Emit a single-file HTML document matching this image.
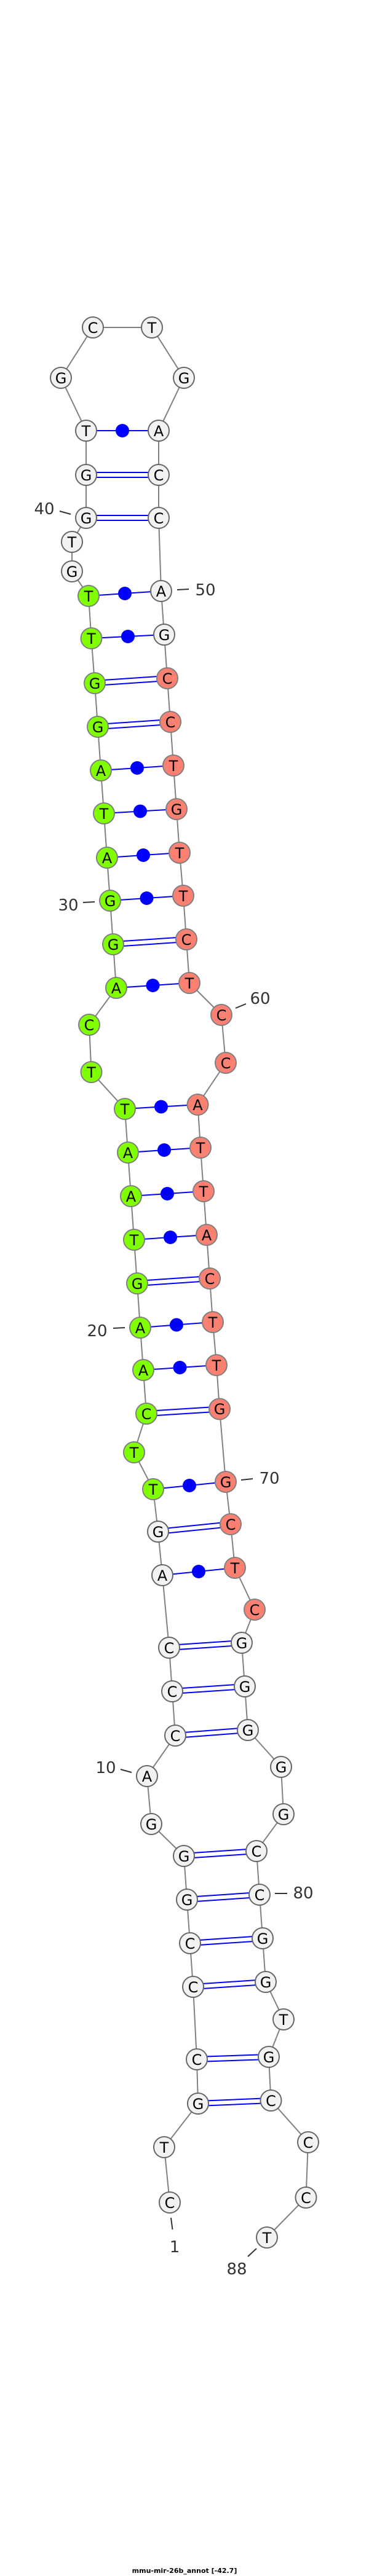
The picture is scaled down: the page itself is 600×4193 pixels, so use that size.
<!DOCTYPE html>
<html><head><meta charset="utf-8"><style>html,body{margin:0;padding:0;background:#fff}svg{display:block}</style></head>
<body>
<svg width="600" height="4193" viewBox="0 0 600 4193" xmlns="http://www.w3.org/2000/svg">
<rect width="600" height="4193" fill="#fff"/>
<polyline fill="none" stroke="#808080" stroke-width="2" points="276,3585 267,3495 322,3424 320,3352 314,3234 309,3163 304,3092 299,3021 246,2969 239,2891 285,2825 280,2753 275,2682 264,2564 257,2493 249,2424 218,2364 238,2301 233,2230 228,2161 223,2089 218,2018 213,1947 208,1876 203,1805 148.5,1745 145,1668 189,1608 184,1537 179,1466 174,1396 169,1324 164,1254 159,1183 154,1112 148.5,1039 144,970 117,930 117,882 140,843 140,773 140,701 99,615 151,533 247,533 299,615 258,701 258,773 258,843 262,962 267,1033 272,1104 277,1175 282,1246 287,1317 292,1388 298,1458 303,1529 308,1600 360,1652 367,1730 321.5,1798 326,1868 331,1939 336,2010 341,2081 346,2152 352,2222 357,2293.5 367,2412 375,2481 382,2552 414,2620 393,2674 398,2745 403,2816 457,2876 461,2953 417,3013 422,3084 427,3155 432,3226 461,3287 437,3348 440.5,3419 501,3487 497.5,3577 434,3642"/>
<g stroke="#0000ff" stroke-width="2" fill="none">
<!-- double pairs -->
<path d="M322,3420 L440.5,3415 M322,3428 L440.5,3423"/>
<path d="M320,3348 L437,3344 M320,3356 L437,3352"/>
<path d="M314,3230 L432,3222 M314,3238 L432,3230"/>
<path d="M309,3159 L427,3151 M309,3167 L427,3159"/>
<path d="M304,3088 L422,3080 M304,3096 L422,3088"/>
<path d="M299,3017 L417,3009 M299,3025 L417,3017"/>
<path d="M285,2821 L403,2812 M285,2829 L403,2820"/>
<path d="M280,2749 L398,2741 M280,2757 L398,2749"/>
<path d="M275,2678 L393,2670 M275,2686 L393,2678"/>
<path d="M257,2489 L375,2477 M257,2497 L375,2485"/>
<path d="M238,2297 L357,2289.5 M238,2305 L357,2297.5"/>
<path d="M223,2085 L341,2077 M223,2093 L341,2085"/>
<path d="M184,1533 L303,1525 M184,1541 L303,1533"/>
<path d="M159,1179 L277,1171 M159,1187 L277,1179"/>
<path d="M154,1108 L272,1100 M154,1116 L272,1108"/>
<path d="M140,839 L258,839 M140,847 L258,847"/>
<path d="M140,769 L258,769 M140,777 L258,777"/>
<!-- single pairs -->
<path d="M264,2564 L382,2552 M249,2424 L367,2412 M233,2230 L352,2222 M228,2161 L346,2152 M218,2018 L336,2010 M213,1947 L331,1939 M208,1876 L326,1868 M203,1805 L321.5,1798 M189,1608 L308,1600 M179,1466 L298,1458 M174,1396 L292,1388 M169,1324 L287,1317 M164,1254 L282,1246 M148.5,1039 L267,1033 M144,970 L262,962 M140,701 L258,701"/>
</g>
<g fill="#0000ff">
<circle cx="323" cy="2558" r="11"/><circle cx="308" cy="2418" r="11"/><circle cx="292.5" cy="2226" r="11"/><circle cx="287" cy="2156.5" r="11"/><circle cx="277" cy="2014" r="11"/><circle cx="272" cy="1943" r="11"/><circle cx="267" cy="1872" r="11"/><circle cx="262" cy="1801.5" r="11"/><circle cx="248.5" cy="1604" r="11"/><circle cx="238.5" cy="1462" r="11"/><circle cx="233" cy="1392" r="11"/><circle cx="228" cy="1320.5" r="11"/><circle cx="223" cy="1250" r="11"/><circle cx="208" cy="1036" r="11"/><circle cx="203" cy="966" r="11"/><circle cx="199" cy="701" r="11"/>
</g>
<g stroke="#666" stroke-width="2">
<g fill="#f2f2f2">
<circle cx="276" cy="3585" r="17"/><circle cx="267" cy="3495" r="17"/><circle cx="322" cy="3424" r="17"/><circle cx="320" cy="3352" r="17"/><circle cx="314" cy="3234" r="17"/><circle cx="309" cy="3163" r="17"/><circle cx="304" cy="3092" r="17"/><circle cx="299" cy="3021" r="17"/><circle cx="246" cy="2969" r="17"/><circle cx="239" cy="2891" r="17"/><circle cx="285" cy="2825" r="17"/><circle cx="280" cy="2753" r="17"/><circle cx="275" cy="2682" r="17"/><circle cx="264" cy="2564" r="17"/><circle cx="257" cy="2493" r="17"/>
<circle cx="117" cy="930" r="17"/><circle cx="117" cy="882" r="17"/><circle cx="140" cy="843" r="17"/><circle cx="140" cy="773" r="17"/><circle cx="140" cy="701" r="17"/><circle cx="99" cy="615" r="17"/><circle cx="151" cy="533" r="17"/><circle cx="247" cy="533" r="17"/><circle cx="299" cy="615" r="17"/><circle cx="258" cy="701" r="17"/><circle cx="258" cy="773" r="17"/><circle cx="258" cy="843" r="17"/><circle cx="262" cy="962" r="17"/><circle cx="267" cy="1033" r="17"/>
<circle cx="393" cy="2674" r="17"/><circle cx="398" cy="2745" r="17"/><circle cx="403" cy="2816" r="17"/><circle cx="457" cy="2876" r="17"/><circle cx="461" cy="2953" r="17"/><circle cx="417" cy="3013" r="17"/><circle cx="422" cy="3084" r="17"/><circle cx="427" cy="3155" r="17"/><circle cx="432" cy="3226" r="17"/><circle cx="461" cy="3287" r="17"/><circle cx="437" cy="3348" r="17"/><circle cx="440.5" cy="3419" r="17"/><circle cx="501" cy="3487" r="17"/><circle cx="497.5" cy="3577" r="17"/><circle cx="434" cy="3642" r="17"/>
</g>
<g fill="#7fff00" stroke="#808080">
<circle cx="249" cy="2424" r="17"/><circle cx="218" cy="2364" r="17"/><circle cx="238" cy="2301" r="17"/><circle cx="233" cy="2230" r="17"/><circle cx="228" cy="2161" r="17"/><circle cx="223" cy="2089" r="17"/><circle cx="218" cy="2018" r="17"/><circle cx="213" cy="1947" r="17"/><circle cx="208" cy="1876" r="17"/><circle cx="203" cy="1805" r="17"/><circle cx="148.5" cy="1745" r="17"/><circle cx="145" cy="1668" r="17"/><circle cx="189" cy="1608" r="17"/><circle cx="184" cy="1537" r="17"/><circle cx="179" cy="1466" r="17"/><circle cx="174" cy="1396" r="17"/><circle cx="169" cy="1324" r="17"/><circle cx="164" cy="1254" r="17"/><circle cx="159" cy="1183" r="17"/><circle cx="154" cy="1112" r="17"/><circle cx="148.5" cy="1039" r="17"/><circle cx="144" cy="970" r="17"/>
</g>
<g fill="#fa8072" stroke="#808080">
<circle cx="272" cy="1104" r="17"/><circle cx="277" cy="1175" r="17"/><circle cx="282" cy="1246" r="17"/><circle cx="287" cy="1317" r="17"/><circle cx="292" cy="1388" r="17"/><circle cx="298" cy="1458" r="17"/><circle cx="303" cy="1529" r="17"/><circle cx="308" cy="1600" r="17"/><circle cx="360" cy="1652" r="17"/><circle cx="367" cy="1730" r="17"/><circle cx="321.5" cy="1798" r="17"/><circle cx="326" cy="1868" r="17"/><circle cx="331" cy="1939" r="17"/><circle cx="336" cy="2010" r="17"/><circle cx="341" cy="2081" r="17"/><circle cx="346" cy="2152" r="17"/><circle cx="352" cy="2222" r="17"/><circle cx="357" cy="2293.5" r="17"/><circle cx="367" cy="2412" r="17"/><circle cx="375" cy="2481" r="17"/><circle cx="382" cy="2552" r="17"/><circle cx="414" cy="2620" r="17"/>
</g>
</g>
<g font-family="'DejaVu Sans', 'Liberation Sans', sans-serif" font-size="24" text-anchor="middle" fill="#000">
<text x="276" y="3594">C</text><text x="267" y="3504">T</text><text x="322" y="3433">G</text><text x="320" y="3361">C</text><text x="314" y="3243">C</text><text x="309" y="3172">C</text><text x="304" y="3101">G</text><text x="299" y="3030">G</text><text x="246" y="2978">G</text><text x="239" y="2900">A</text>
<text x="285" y="2834">C</text><text x="280" y="2762">C</text><text x="275" y="2691">C</text><text x="264" y="2573">A</text><text x="257" y="2502">G</text><text x="249" y="2433">T</text><text x="218" y="2373">T</text><text x="238" y="2310">C</text><text x="233" y="2239">A</text><text x="228" y="2170">A</text>
<text x="223" y="2098">G</text><text x="218" y="2027">T</text><text x="213" y="1956">A</text><text x="208" y="1885">A</text><text x="203" y="1814">T</text><text x="148.5" y="1754">T</text><text x="145" y="1677">C</text><text x="189" y="1617">A</text><text x="184" y="1546">G</text><text x="179" y="1475">G</text>
<text x="174" y="1405">A</text><text x="169" y="1333">T</text><text x="164" y="1263">A</text><text x="159" y="1192">G</text><text x="154" y="1121">G</text><text x="148.5" y="1048">T</text><text x="144" y="979">T</text><text x="117" y="939">G</text><text x="117" y="891">T</text><text x="140" y="852">G</text>
<text x="140" y="782">G</text><text x="140" y="710">T</text><text x="99" y="624">G</text><text x="151" y="542">C</text><text x="247" y="542">T</text><text x="299" y="624">G</text><text x="258" y="710">A</text><text x="258" y="782">C</text><text x="258" y="852">C</text><text x="262" y="971">A</text>
<text x="267" y="1042">G</text><text x="272" y="1113">C</text><text x="277" y="1184">C</text><text x="282" y="1255">T</text><text x="287" y="1326">G</text><text x="292" y="1397">T</text><text x="298" y="1467">T</text><text x="303" y="1538">C</text><text x="308" y="1609">T</text><text x="360" y="1661">C</text>
<text x="367" y="1739">C</text><text x="321.5" y="1807">A</text><text x="326" y="1877">T</text><text x="331" y="1948">T</text><text x="336" y="2019">A</text><text x="341" y="2090">C</text><text x="346" y="2161">T</text><text x="352" y="2231">T</text><text x="357" y="2302">G</text><text x="367" y="2421">G</text>
<text x="375" y="2490">C</text><text x="382" y="2561">T</text><text x="414" y="2629">C</text><text x="393" y="2683">G</text><text x="398" y="2754">G</text><text x="403" y="2825">G</text><text x="457" y="2885">G</text><text x="461" y="2962">G</text><text x="417" y="3022">C</text><text x="422" y="3093">C</text>
<text x="427" y="3164">G</text><text x="432" y="3235">G</text><text x="461" y="3296">T</text><text x="437" y="3357">G</text><text x="440.5" y="3428">C</text><text x="501" y="3496">C</text><text x="497.5" y="3586">C</text><text x="434" y="3651">T</text>
</g>
<g stroke="#333" stroke-width="2">
<line x1="97" y1="832" x2="115" y2="837"/><line x1="288" y1="960" x2="307" y2="959"/><line x1="135" y1="1469" x2="154" y2="1468"/><line x1="383" y1="1641" x2="400" y2="1634"/><line x1="184" y1="2162" x2="203" y2="2161"/><line x1="392" y1="2409" x2="411" y2="2407"/><line x1="196" y1="2880" x2="214" y2="2885"/><line x1="447" y1="3082" x2="467" y2="3082"/><line x1="278" y1="3610" x2="280.5" y2="3629"/><line x1="403" y1="3673" x2="417" y2="3660"/>
</g>
<g font-family="'DejaVu Sans', 'Liberation Sans', sans-serif" font-size="26" fill="#333" text-anchor="middle">
<text x="72" y="837">40</text><text x="334" y="969">50</text><text x="111" y="1482">30</text><text x="423" y="1634">60</text><text x="158" y="2175">20</text><text x="438" y="2415">70</text><text x="172" y="2886">10</text><text x="493" y="3090">80</text><text x="284" y="3666">1</text><text x="385" y="3702">88</text>
</g>
<text x="300" y="4188" font-family="'DejaVu Sans', 'Liberation Sans', sans-serif" font-size="11" font-weight="bold" text-anchor="middle" fill="#000">mmu-mir-26b_annot [-42.7]</text>
</svg>
</body></html>
